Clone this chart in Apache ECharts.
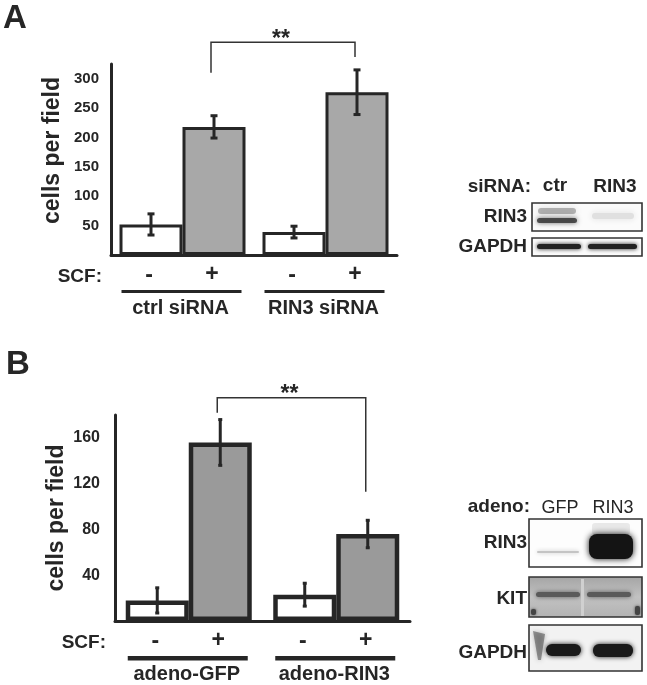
<!DOCTYPE html>
<html>
<head>
<meta charset="utf-8">
<script src="https://cdn.jsdelivr.net/npm/echarts@6/dist/echarts.min.js"></script>
<style>
  html, body { margin: 0; padding: 0; background: #fff; }
  #main { width: 647px; height: 685px; }
</style>
</head>
<body>
<div id="main"></div>
<script>
var FONT = '"Liberation Sans", Arial, sans-serif';
var INK = '#262626';

// panel A - siRNA knockdown
var groupsA = ['ctrl siRNA', 'RIN3 siRNA'];
var noScfA = [52, 39];
var scfA = [218, 277];
var noScfErrA = [18, 10];
var scfErrA = [19, 38];
var bracketA = [362, 310, 337];   // top, left foot, right foot

// panel B - adenovirus overexpression
var groupsB = ['adeno-GFP', 'adeno-RIN3'];
var noScfB = [18, 23];
var scfB = [156, 76];
var noScfErrB = [11, 10];
var scfErrB = [20, 12];
var bracketB = [195, 182, 113];

var BAR_W = 63;

function txt(s, x, y, size, weight, align, vAlign) {
    return {
        type: 'text', x: x, y: y,
        style: {
            text: s, fill: INK, font: (weight || 'bold') + ' ' + size + 'px ' + FONT,
            align: align || 'center', verticalAlign: vAlign || 'middle'
        }
    };
}

function errData(mean0, err0, mean1, err1) {
    var d = [];
    for (var i = 0; i < mean0.length; i++) {
        d.push([i, mean0[i], err0[i], -1]);
        d.push([i, mean1[i], err1[i], 1]);
    }
    return d;
}

function errItem(lw, cap) {
    return function (params, api) {
        var side = api.value(3);
        var hi = api.coord([api.value(0), api.value(1) + api.value(2)]);
        var lo = api.coord([api.value(0), api.value(1) - api.value(2)]);
        var x = hi[0] + side * BAR_W / 2;
        var st = { stroke: INK, lineWidth: lw };
        return {
            type: 'group', children: [
                { type: 'line', shape: { x1: x, y1: hi[1], x2: x, y2: lo[1] }, style: st },
                { type: 'line', shape: { x1: x - cap, y1: hi[1], x2: x + cap, y2: hi[1] }, style: st },
                { type: 'line', shape: { x1: x - cap, y1: lo[1], x2: x + cap, y2: lo[1] }, style: st }
            ]
        };
    };
}

function groupItem(groups, lineW) {
    return function (params, api) {
        var i = params.dataIndex;
        var base = api.coord([i, 0]);
        var band = api.size([1, 0])[0];
        var cx = base[0], y0 = base[1];
        var kids = [
            txt('-', cx - BAR_W / 2 - 2, y0 + 21, 23),
            txt('+', cx + BAR_W / 2 - 2, y0 + 20, 23),
            { type: 'rect', shape: { x: cx - 61, y: y0 + 35, width: 120, height: lineW }, style: { fill: INK } },
            txt(groups[i], cx - 2, y0 + 53, 20)
        ];
        if (i === 0) kids.push(txt('SCF:', cx - band / 2 - 9, y0 + 22, 19, 'bold', 'right'));
        return { type: 'group', children: kids };
    };
}

function bracketItem(params, api) {
    var top = api.coord([0, api.value(1)])[1];
    var x1 = api.coord([0, 0])[0] + BAR_W / 2 - 3;
    var x2 = api.coord([1, 0])[0] + BAR_W / 2 - 2;
    var yl = api.coord([0, api.value(2)])[1];
    var yr = api.coord([1, api.value(3)])[1];
    return {
        type: 'group', children: [
            { type: 'polyline', shape: { points: [[x1, yl], [x1, top], [x2, top], [x2, yr]] },
              style: { stroke: '#333', lineWidth: 1.5, fill: null } },
            txt('**', (x1 + x2) / 2 - 2, top - 3, 23, 'bold', 'center', 'middle')
        ]
    };
}

function yAxis(gi, max, step, fs, margin, pad) {
    return {
        type: 'value', gridIndex: gi, min: 0, max: max, interval: step,
        name: 'cells per field', nameLocation: 'middle', nameRotate: 90, nameGap: 47,
        nameTextStyle: { color: INK, fontFamily: FONT, fontWeight: 'bold', fontSize: 23, padding: pad },
        axisLine: { show: true, lineStyle: { color: INK, width: 3 } },
        axisTick: { show: false }, splitLine: { show: false },
        axisLabel: {
            color: INK, fontFamily: FONT, fontWeight: 'bold', fontSize: fs, margin: margin,
            formatter: function (v) { return (v > 0 && v % step === 0) ? v : ''; }
        }
    };
}

function xAxis(gi, groups) {
    return {
        type: 'category', gridIndex: gi, data: groups,
        axisLine: { show: true, lineStyle: { color: INK, width: 3 } },
        axisTick: { show: false }, axisLabel: { show: false }, splitLine: { show: false }
    };
}

function panelSeries(k, groups, m0, e0, m1, e1, br, gray, bw, capW) {
    return [
        { type: 'bar', xAxisIndex: k, yAxisIndex: k, data: m0, barWidth: BAR_W, barGap: '0%',
          itemStyle: { color: '#ffffff', borderColor: INK, borderWidth: bw }, silent: true },
        { type: 'bar', xAxisIndex: k, yAxisIndex: k, data: m1, barWidth: BAR_W, barGap: '0%',
          itemStyle: { color: gray, borderColor: INK, borderWidth: bw }, silent: true },
        { type: 'custom', xAxisIndex: k, yAxisIndex: k, z: 5, silent: true,
          data: errData(m0, e0, m1, e1), renderItem: errItem(3, capW) },
        { type: 'custom', xAxisIndex: k, yAxisIndex: k, clip: false, silent: true,
          data: groups.map(function (g, i) { return [i, 0]; }), renderItem: groupItem(groups, bw) },
        { type: 'custom', xAxisIndex: k, yAxisIndex: k, clip: false, silent: true,
          data: [[0, br[0], br[1], br[2]]], renderItem: bracketItem }
    ];
}

// western blot panels drawn as graphic shapes
function box(x, y, w, h, fill) {
    return { type: 'rect', shape: { x: x, y: y, width: w, height: h },
             style: { fill: fill || '#fbfbfb', stroke: '#333', lineWidth: 1.6 } };
}
function band(x, y, w, h, color, blur, r) {
    return { type: 'rect', shape: { x: x, y: y, width: w, height: h, r: r || 3 },
             style: { fill: color, shadowBlur: blur || 4, shadowColor: color } };
}

var blots = [
    txt('A', 3, 19, 33, 'bold', 'left'),
    txt('B', 6, 365, 33, 'bold', 'left'),

    // blot A
    txt('siRNA:', 531, 187, 19, 'bold', 'right'),
    txt('ctr', 555, 186, 19, 'bold'),
    txt('RIN3', 615, 187, 19, 'bold'),
    txt('RIN3', 527, 217, 19, 'bold', 'right'),
    txt('GAPDH', 527, 247, 19, 'bold', 'right'),
    box(532, 203, 110, 28),
    band(538, 208, 38, 6, 'rgba(100,100,100,0.45)', 6),
    band(537, 218, 40, 5, 'rgba(55,55,55,0.85)', 5),
    band(592, 213, 42, 6, '#e0e0e0', 6),
    box(532, 238, 110, 18),
    band(537, 244, 44, 5, '#222', 4),
    band(588, 244, 49, 5, '#222', 4),

    // blot B
    txt('adeno:', 530, 507, 19, 'bold', 'right'),
    txt('GFP', 560, 508, 18, 'normal'),
    txt('RIN3', 613, 508, 18, 'normal'),
    txt('RIN3', 527, 543, 19, 'bold', 'right'),
    txt('KIT', 527, 599, 19, 'bold', 'right'),
    txt('GAPDH', 527, 653, 19, 'bold', 'right'),
    box(529, 519, 113, 48, '#fdfdfd'),
    band(537, 551, 42, 2, '#c4c4c4', 4, 1),
    band(592, 523, 38, 12, 'rgba(0,0,0,0.08)', 8),
    band(589, 534, 44, 25, '#141414', 6, 8),
    {
        type: 'rect', shape: { x: 529, y: 577, width: 113, height: 40 },
        style: {
            stroke: '#333', lineWidth: 1.6,
            fill: new echarts.graphic.LinearGradient(0, 0, 0, 1, [
                { offset: 0, color: '#a4a4a4' }, { offset: 0.5, color: '#c2c2c2' }, { offset: 1, color: '#b2b2b2' }
            ])
        }
    },
    band(536, 592, 44, 5, '#5a5a5a', 5),
    band(587, 592, 44, 5, '#5a5a5a', 5),
    { type: 'rect', shape: { x: 581, y: 579, width: 3, height: 37 }, style: { fill: '#d0d0d0' } },
    band(531, 609, 5, 6, '#444', 3, 2),
    band(635, 606, 5, 9, '#444', 3, 2),
    box(529, 625, 113, 46, '#f2f2f2'),
    { type: 'polygon', shape: { points: [[533, 631], [545, 634], [541, 660], [538, 660]] },
      style: { fill: 'rgba(60,60,60,0.5)', shadowBlur: 5, shadowColor: '#777' } },
    band(546, 644, 35, 12, '#1a1a1a', 5, 6),
    band(593, 644, 40, 13, '#1a1a1a', 5, 6)
];

var chart = echarts.init(document.getElementById('main'), null, { renderer: 'canvas' });
chart.setOption({
    animation: false,
    backgroundColor: '#ffffff',
    textStyle: { fontFamily: FONT },
    grid: [
        { left: 111, top: 64, width: 286, height: 191, outerBoundsMode: 'none' },
        { left: 115, top: 415, width: 295, height: 206, outerBoundsMode: 'none' }
    ],
    xAxis: [xAxis(0, groupsA), xAxis(1, groupsB)],
    yAxis: [yAxis(0, 325, 50, 15, 12, [0, 0, 0, 18]), yAxis(1, 180, 40, 16, 15, 0)],
    series: panelSeries(0, groupsA, noScfA, noScfErrA, scfA, scfErrA, bracketA, '#a8a8a8', 3, 3.5)
        .concat(panelSeries(1, groupsB, noScfB, noScfErrB, scfB, scfErrB, bracketB, '#9a9a9a', 4.5, 2)),
    graphic: blots
});
</script>
</body>
</html>
